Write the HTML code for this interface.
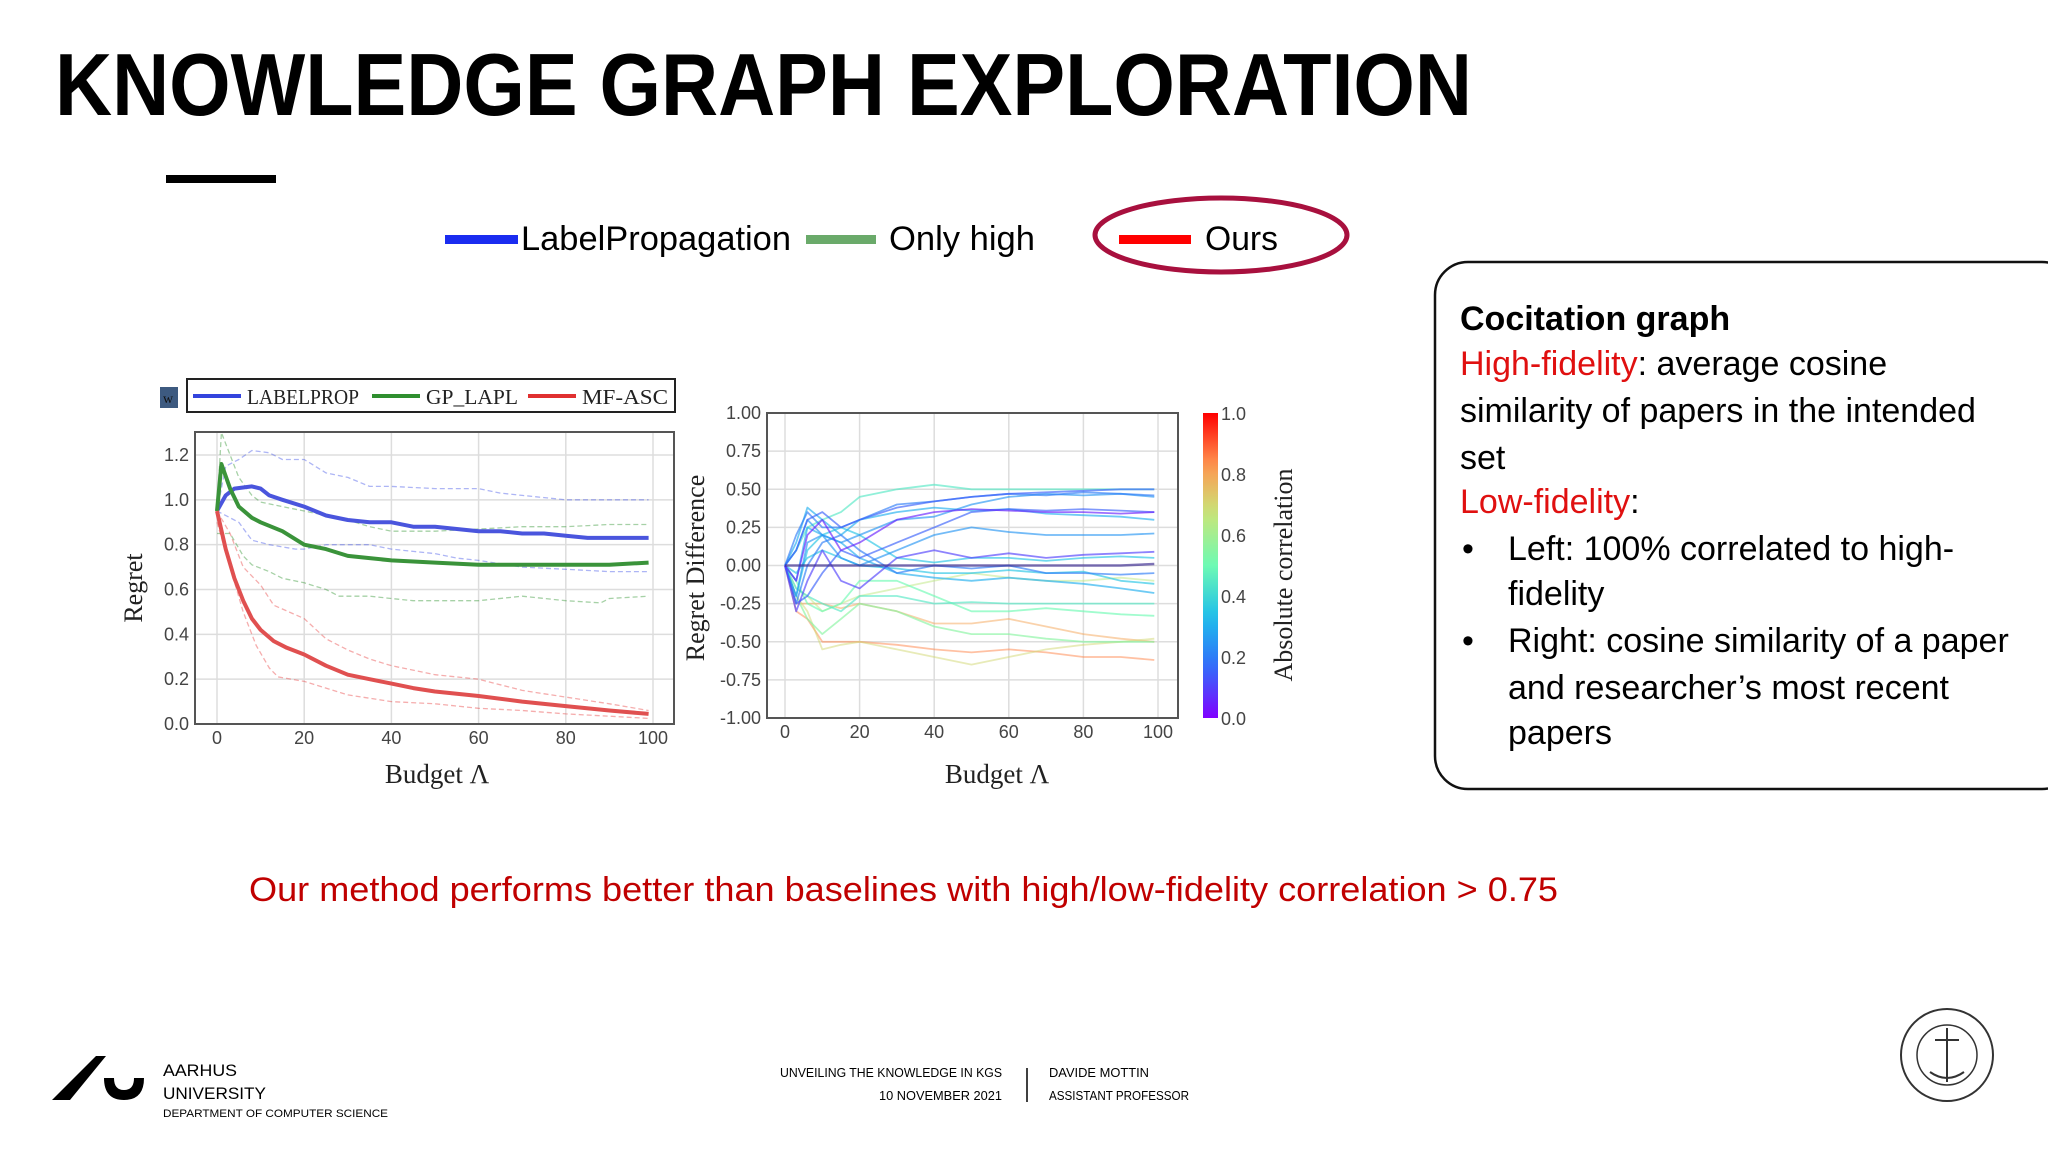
<!DOCTYPE html>
<html><head><meta charset="utf-8">
<style>
html,body{margin:0;padding:0;background:#fff;}
svg{display:block;}
text{font-family:"Liberation Sans",sans-serif;}
.serif{font-family:"Liberation Serif",serif;}
</style></head>
<body>
<svg id="s" width="2048" height="1152" viewBox="0 0 2048 1152" xmlns="http://www.w3.org/2000/svg">
<rect width="2048" height="1152" fill="#fff"/>
<text x="55" y="115" font-size="88" font-weight="bold" textLength="1417" lengthAdjust="spacingAndGlyphs">KNOWLEDGE GRAPH EXPLORATION</text>
<rect x="166" y="175" width="110" height="8" fill="#000"/>

<g>
<rect x="445" y="235" width="73" height="9" fill="#1a2cf0"/>
<text x="521" y="250" font-size="34" textLength="270" lengthAdjust="spacingAndGlyphs">LabelPropagation</text>
<rect x="806" y="235" width="70" height="9" fill="#6aaa6a"/>
<text x="889" y="250" font-size="34" textLength="146" lengthAdjust="spacingAndGlyphs">Only high</text>
<rect x="1119" y="235" width="72" height="9" fill="#ff0000"/>
<text x="1205" y="250" font-size="34" textLength="73" lengthAdjust="spacingAndGlyphs">Ours</text>
<ellipse cx="1221" cy="235" rx="126" ry="37" fill="none" stroke="#a8103e" stroke-width="5"/>
</g>

<g>
<rect x="1435" y="262" width="640" height="527" rx="33" fill="none" stroke="#111" stroke-width="2.5"/>
<text x="1460" y="330" font-size="34" font-weight="bold">Cocitation graph</text>
<text x="1460" y="375" font-size="34"><tspan fill="#e01010">High-fidelity</tspan>: average cosine</text>
<text x="1460" y="422" font-size="34">similarity of papers in the intended</text>
<text x="1460" y="469" font-size="34">set</text>
<text x="1460" y="513" font-size="34"><tspan fill="#e01010">Low-fidelity</tspan>:</text>
<text x="1462" y="560" font-size="34">•</text>
<text x="1508" y="560" font-size="34">Left: 100% correlated to high-</text>
<text x="1508" y="605" font-size="34">fidelity</text>
<text x="1462" y="652" font-size="34">•</text>
<text x="1508" y="652" font-size="34">Right: cosine similarity of a paper</text>
<text x="1508" y="699" font-size="34">and researcher’s most recent</text>
<text x="1508" y="744" font-size="34">papers</text>
</g>

<text x="249" y="901" font-size="34" fill="#c00000" textLength="1309" lengthAdjust="spacingAndGlyphs">Our method performs better than baselines with high/low-fidelity correlation &gt; 0.75</text>

<g>
<path d="M52 1100 L96 1056 L106 1056 L70 1100 Z M104 1078 q0 22 20 22 q20 0 20 -22 l-10 0 q0 12 -10 12 q-10 0 -10 -12 Z" fill="#000"/>
<text x="163" y="1076" font-size="17" textLength="74" lengthAdjust="spacingAndGlyphs">AARHUS</text>
<text x="163" y="1099" font-size="17" textLength="103" lengthAdjust="spacingAndGlyphs">UNIVERSITY</text>
<text x="163" y="1117" font-size="11" textLength="225" lengthAdjust="spacingAndGlyphs">DEPARTMENT OF COMPUTER SCIENCE</text>
<text x="1002" y="1077" font-size="12.5" text-anchor="end" textLength="222" lengthAdjust="spacingAndGlyphs">UNVEILING THE KNOWLEDGE IN KGS</text>
<text x="1002" y="1100" font-size="12.5" text-anchor="end" textLength="123" lengthAdjust="spacingAndGlyphs">10 NOVEMBER 2021</text>
<line x1="1027" y1="1068" x2="1027" y2="1102" stroke="#000" stroke-width="1.5"/>
<text x="1049" y="1077" font-size="12.5" textLength="100" lengthAdjust="spacingAndGlyphs">DAVIDE MOTTIN</text>
<text x="1049" y="1100" font-size="12.5" textLength="140" lengthAdjust="spacingAndGlyphs">ASSISTANT PROFESSOR</text>
<g fill="none" stroke="#333">
<circle cx="1947" cy="1055" r="46" stroke-width="2"/>
<circle cx="1947" cy="1055" r="30" stroke-width="1.5"/>
<line x1="1947" y1="1028" x2="1947" y2="1082" stroke-width="2"/>
<line x1="1935" y1="1040" x2="1959" y2="1040" stroke-width="2"/>
<path d="M1930 1072 q17 12 34 0" stroke-width="2"/>
</g>
</g>

<g id="left"></g>
<g id="right"></g>
</svg>
<script>
// ---------- Left chart data ----------
const lpX   = [0,2,4,8,10,12,15,20,25,30,35,40,45,50,55,60,65,70,75,80,85,90,95,99];
const lpMean= [0.95,1.02,1.05,1.06,1.05,1.02,1.00,0.97,0.93,0.91,0.90,0.90,0.88,0.88,0.87,0.86,0.86,0.85,0.85,0.84,0.83,0.83,0.83,0.83];
const lpUpX = [0,2,5,8,12,15,20,25,30,35,40,50,60,65,70,80,90,99];
const lpUp  = [0.95,1.15,1.18,1.22,1.21,1.18,1.18,1.12,1.10,1.06,1.06,1.05,1.05,1.03,1.02,1.00,1.00,1.00];
const lpLoX = [0,5,8,12,18,20,25,30,35,40,45,50,55,60,70,80,90,99];
const lpLo  = [0.95,0.90,0.82,0.80,0.78,0.78,0.80,0.80,0.80,0.78,0.77,0.76,0.74,0.73,0.70,0.69,0.68,0.68];
const gpX   = [0,1,3,5,8,10,15,20,25,30,35,40,50,60,70,80,90,99];
const gpMean= [0.95,1.16,1.05,0.97,0.92,0.90,0.86,0.80,0.78,0.75,0.74,0.73,0.72,0.71,0.71,0.71,0.71,0.72];
const gpUp  = [0.95,1.30,1.20,1.10,1.02,0.99,0.97,0.95,0.93,0.91,0.88,0.86,0.86,0.87,0.88,0.88,0.89,0.89];
const gpLoX = [0,3,6,8,12,15,20,25,28,35,40,45,50,60,70,80,88,90,99];
const gpLo  = [0.85,0.85,0.75,0.71,0.68,0.65,0.63,0.60,0.57,0.57,0.56,0.55,0.55,0.55,0.57,0.55,0.54,0.56,0.57];
const mfX   = [0,2,4,6,8,10,13,16,20,25,30,35,40,45,50,55,60,70,80,90,99];
const mfMean= [0.95,0.78,0.65,0.55,0.47,0.42,0.37,0.34,0.31,0.26,0.22,0.20,0.18,0.16,0.145,0.135,0.125,0.10,0.08,0.06,0.045];
const mfUpX = [0,3,6,10,13,20,25,30,35,40,50,60,70,80,90,99];
const mfUp  = [0.95,0.85,0.70,0.62,0.53,0.47,0.38,0.33,0.29,0.26,0.22,0.20,0.15,0.12,0.09,0.06];
const mfLoX = [0,3,6,9,12,14,20,25,30,40,50,60,70,80,90,99];
const mfLo  = [0.90,0.70,0.50,0.35,0.25,0.21,0.19,0.16,0.13,0.10,0.09,0.07,0.06,0.045,0.035,0.025];
const leftYTicks = ["0.0","0.2","0.4","0.6","0.8","1.0","1.2"];
const xTicks = ["0","20","40","60","80","100"];

// ---------- Right chart data ----------
const rdX = [0,3,6,10,15,20,30,40,50,60,70,80,90,99];
const rdCorr = [0.15,0.05,0.2,0.25,0.1,0.3,0.0,0.2,0.3,0.35,0.45,0.45,0.5,0.55,0.85,0.8,0.7,0.65,0.25,0.35,0.15];
const rd1 =[0,0.1,0.3,0.35,0.25,0.3,0.38,0.42,0.45,0.47,0.48,0.49,0.5,0.5];
const rd2 =[0,-0.1,0.2,0.3,0.1,0.15,0.3,0.35,0.37,0.36,0.35,0.35,0.34,0.35];
const rd3 =[0,0.2,0.35,0.25,0.25,0.3,0.4,0.42,0.45,0.47,0.46,0.48,0.47,0.46];
const rd4 =[0,-0.2,0.15,0.2,0.05,0.0,0.1,0.2,0.25,0.22,0.2,0.2,0.2,0.21];
const rd5 =[0,-0.3,-0.1,0.1,-0.1,-0.15,0.05,0.1,0.05,0.08,0.05,0.07,0.08,0.09];
const rd6 =[0,0.15,0.38,0.3,0.2,0.3,0.35,0.38,0.36,0.37,0.34,0.33,0.32,0.3];
const rd7 =[0,0,0,0,0,0,0,0,0,0,0,0,0,0.01];
const rd8 =[0,-0.25,0.0,0.15,0.2,0.1,-0.05,0.0,-0.02,0.0,-0.05,-0.05,-0.06,-0.05];
const rd9 =[0,-0.1,0.25,0.2,0.15,0.05,-0.05,-0.08,-0.1,-0.08,-0.1,-0.12,-0.15,-0.18];
const rd10=[0,-0.2,0.1,0.2,0.25,0.2,0.05,0.02,0.05,0.05,0.03,0.05,0.06,0.05];
const rd11=[0,0.1,0.25,0.3,0.35,0.45,0.5,0.53,0.5,0.5,0.5,0.5,0.5,0.5];
const rd12=[0,-0.15,-0.2,-0.25,-0.3,-0.2,-0.2,-0.25,-0.24,-0.25,-0.25,-0.25,-0.25,-0.25];
const rd13=[0,-0.1,-0.25,-0.3,-0.25,-0.1,-0.1,-0.2,-0.3,-0.3,-0.28,-0.3,-0.32,-0.33];
const rd14=[0,-0.2,-0.35,-0.45,-0.35,-0.25,-0.3,-0.4,-0.45,-0.45,-0.48,-0.5,-0.5,-0.5];
const rd15=[0,-0.3,-0.35,-0.5,-0.5,-0.5,-0.52,-0.55,-0.57,-0.55,-0.57,-0.6,-0.6,-0.62];
const rd16=[0,-0.25,-0.25,-0.25,-0.28,-0.25,-0.3,-0.38,-0.38,-0.35,-0.4,-0.45,-0.48,-0.5];
const rd17=[0,-0.2,-0.3,-0.55,-0.52,-0.5,-0.55,-0.6,-0.65,-0.6,-0.55,-0.52,-0.5,-0.48];
const rd18=[0,-0.15,-0.2,-0.3,-0.25,-0.2,-0.15,-0.1,-0.05,-0.08,-0.1,-0.1,-0.08,-0.1];
const rd19=[0,0.1,0.3,0.2,0.15,0.2,0.3,0.32,0.4,0.45,0.47,0.46,0.47,0.45];
const rd20=[0,-0.05,0.05,0.1,0.05,0.0,-0.02,-0.05,-0.05,-0.03,-0.05,-0.04,-0.1,-0.12];
const rd21=[0,-0.25,-0.2,-0.05,0.1,0.05,0.15,0.25,0.35,0.37,0.36,0.37,0.36,0.35];
const rightYTicks = ["-1.00","-0.75","-0.50","-0.25","0.00","0.25","0.50","0.75","1.00"];
const cbTicks = ["0.0","0.2","0.4","0.6","0.8","1.0"];

const NS="http://www.w3.org/2000/svg";
function mk(tag,parent,attrs,txt){const e=document.createElementNS(NS,tag);for(const k in attrs)e.setAttribute(k,attrs[k]);if(txt!==undefined)e.textContent=txt;parent.appendChild(e);return e;}
const RB=[[0,128,0,255],[0.17,50,110,250],[0.33,30,190,235],[0.5,110,250,180],[0.67,200,230,120],[0.83,255,150,80],[1,255,0,0]];
function rainbow(v){for(let i=1;i<RB.length;i++){if(v<=RB[i][0]){const a=RB[i-1],b=RB[i],t=(v-a[0])/(b[0]-a[0]);
  return `rgb(${Math.round(a[1]+t*(b[1]-a[1]))},${Math.round(a[2]+t*(b[2]-a[2]))},${Math.round(a[3]+t*(b[3]-a[3]))})`;}}return 'rgb(255,0,0)';}
function pathOf(xs,ys,sx,sy){return xs.map((x,i)=>(i?'L':'M')+sx(x).toFixed(1)+' '+sy(ys[i]).toFixed(1)).join(' ');}

// ---------- Left chart ----------
(function(){
 const g=document.getElementById('left');
 const L=195,R=674,T=432,B=724;
 const sx=v=>217+v*(653-217)/100;
 const sy=v=>724-v*(724-455)/1.2;
 mk('rect',g,{x:L,y:T,width:R-L,height:B-T,fill:'#fff'});
 xTicks.forEach(t=>{const x=sx(+t);
  const gl=mk('line',g,{x1:x,y1:T,x2:x,y2:B,stroke:'#ddd','stroke-width':1.5});
  
  const tl=mk('text',g,{x:x,y:744,'font-size':18,fill:'#444','text-anchor':'middle'},t);
  });
 leftYTicks.forEach(t=>{const y=sy(+t);
  const gl=mk('line',g,{x1:L,y1:y,x2:R,y2:y,stroke:'#ddd','stroke-width':1.5});
  
  const tl=mk('text',g,{x:189,y:y+6,'font-size':18,fill:'#444','text-anchor':'end'},t);
  });
 const series=[
  [lpUpX,lpUp,'#4a5ae8',1.3,'5 3',0.45,'labelprop-upper'],[lpLoX,lpLo,'#4a5ae8',1.3,'5 3',0.45,'labelprop-lower'],
  [gpX,gpUp,'#3a9a3a',1.3,'5 3',0.45,'gp-lapl-upper'],[gpLoX,gpLo,'#3a9a3a',1.3,'5 3',0.45,'gp-lapl-lower'],
  [mfUpX,mfUp,'#e84a4a',1.3,'5 3',0.45,'mf-asc-upper'],[mfLoX,mfLo,'#e84a4a',1.3,'5 3',0.45,'mf-asc-lower'],
  [lpX,lpMean,'#4a55dd',4,'',1,'labelprop-line'],[gpX,gpMean,'#3a933a',4,'',1,'gp-lapl-line'],[mfX,mfMean,'#e05050',4,'',1,'mf-asc-line']];
 series.forEach(s=>{const p=mk('path',g,{d:pathOf(s[0],s[1],sx,sy),fill:'none',stroke:s[2],'stroke-width':s[3],'stroke-dasharray':s[4],opacity:s[5],'stroke-linejoin':'round'});
  });
 mk('rect',g,{x:L,y:T,width:R-L,height:B-T,fill:'none',stroke:'#555','stroke-width':2});
 const yt=mk('text',g,{x:0,y:0,'font-size':26,class:'serif',fill:'#222','text-anchor':'middle',transform:'translate(142,588) rotate(-90)'},'Regret');
 
 const xt=mk('text',g,{x:437,y:783,'font-size':27,class:'serif',fill:'#222','text-anchor':'middle'},'Budget Λ');
 
 const lg=mk('g',g,{});
 
 mk('rect',lg,{x:160,y:387,width:18,height:21,fill:'#3d5a80'});
 mk('text',lg,{x:163,y:403,'font-size':14,class:'serif',fill:'#111'},'w');
 mk('rect',lg,{x:187,y:379,width:488,height:33,fill:'#fff',stroke:'#222','stroke-width':2});
 const items=[['#3344dd',193,'LABELPROP',247,112],['#2f8f2f',372,'GP_LAPL',426,92],['#e03030',528,'MF-ASC',582,86]];
 items.forEach(it=>{mk('line',lg,{x1:it[1],y1:396,x2:it[1]+48,y2:396,stroke:it[0],'stroke-width':4});
  mk('text',lg,{x:it[3],y:404,'font-size':21,class:'serif',fill:'#222',textLength:it[4],lengthAdjust:'spacingAndGlyphs'},it[2]);});
})();

// ---------- Right chart ----------
(function(){
 const g=document.getElementById('right');
 const L=767,R=1178,T=413,B=718;
 const sx=v=>785+v*(1158-785)/100;
 const sy=v=>(T+B)/2-v*(B-T)/2;
 xTicks.forEach(t=>{const x=sx(+t);
  const gl=mk('line',g,{x1:x,y1:T,x2:x,y2:B,stroke:'#ddd','stroke-width':1.5});
  
  const tl=mk('text',g,{x:x,y:738,'font-size':18,fill:'#444','text-anchor':'middle'},t);
  });
 rightYTicks.forEach(t=>{const y=sy(+t);
  const gl=mk('line',g,{x1:L,y1:y,x2:R,y2:y,stroke:'#ddd','stroke-width':1.5});
  
  const tl=mk('text',g,{x:761,y:y+6,'font-size':18,fill:'#444','text-anchor':'end'},t);
  });
 const all=[rd1,rd2,rd3,rd4,rd5,rd6,rd7,rd8,rd9,rd10,rd11,rd12,rd13,rd14,rd15,rd16,rd17,rd18,rd19,rd20,rd21];
 const order=all.map((s,i)=>i).sort((a,b)=>rdCorr[b]-rdCorr[a]);
 order.forEach(i=>{const c=rdCorr[i];
  const p=mk('path',g,{d:pathOf(rdX,all[i],sx,sy),fill:'none',stroke:c===0?'#3a2a90':rainbow(c),'stroke-width':c===0?2.5:1.8,opacity:c>0.6?0.5:0.65,'stroke-linejoin':'round'});
  });
 mk('rect',g,{x:L,y:T,width:R-L,height:B-T,fill:'none',stroke:'#555','stroke-width':2});
 const yt=mk('text',g,{x:0,y:0,'font-size':26,class:'serif',fill:'#222','text-anchor':'middle',transform:'translate(704,568) rotate(-90)'},'Regret Difference');
 
 const xt=mk('text',g,{x:997,y:783,'font-size':27,class:'serif',fill:'#222','text-anchor':'middle'},'Budget Λ');
 
 const defs=mk('defs',g,{});
 const lgd=mk('linearGradient',defs,{id:'rbg',x1:0,y1:1,x2:0,y2:0});
 for(let k=0;k<=20;k++)mk('stop',lgd,{offset:k/20,'stop-color':rainbow(k/20)});
 const cb=mk('rect',g,{x:1203,y:T,width:15,height:B-T,fill:'url(#rbg)'});
 
 cbTicks.forEach(t=>{const y=B-(+t)*(B-T);
  const tl=mk('text',g,{x:1221,y:y+7,'font-size':18,fill:'#444'},t);
  });
 const ct=mk('text',g,{x:0,y:0,'font-size':26,class:'serif',fill:'#222','text-anchor':'middle',transform:'translate(1292,575) rotate(-90)'},'Absolute correlation');
 
})();
</script>
</body></html>
